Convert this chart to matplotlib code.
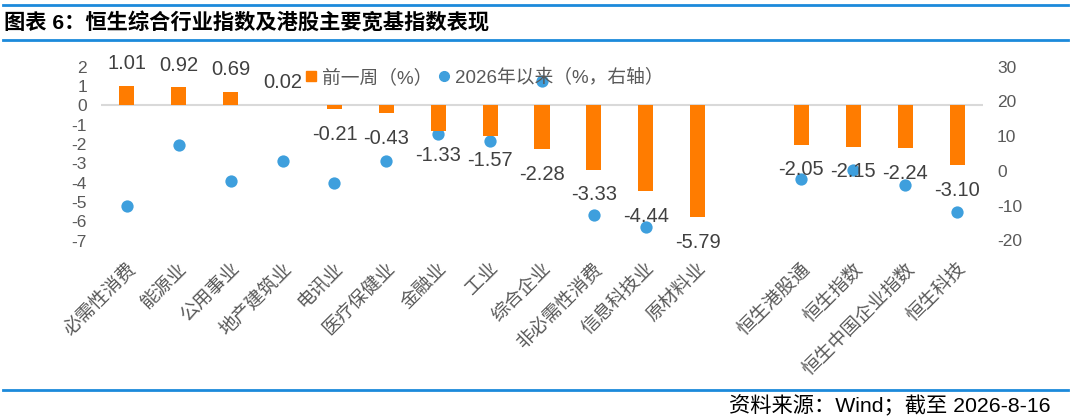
import numpy as np
import matplotlib
matplotlib.use("Agg")
import matplotlib.pyplot as plt
from matplotlib.lines import Line2D

plt.rcParams['font.family'] = ['Liberation Sans', 'Noto Sans CJK SC', 'DejaVu Sans']
plt.rcParams['axes.unicode_minus'] = False

# ---- data ----
categories = ['必需性消费', '能源业', '公用事业', '地产建筑业', '电讯业', '医疗保健业',
              '金融业', '工业', '综合企业', '非必需性消费', '信息科技业', '原材料业',
              '', '恒生港股通', '恒生指数', '恒生中国企业指数', '恒生科技']
week_chg = [1.01, 0.92, 0.69, 0.02, -0.21, -0.43, -1.33, -1.57, -2.28, -3.33, -4.44, -5.79,
            np.nan, -2.05, -2.15, -2.24, -3.10]
ytd_chg = [-10.0, 7.3, -2.8, 2.8, -3.5, 2.9, 10.5, 8.7, 25.9, -12.7, -16.1, -5.9,
           np.nan, -2.3, 0.3, -4.0, -11.8]
left_ticks = [2, 1, 0, -1, -2, -3, -4, -5, -6, -7]
right_ticks = [30, 20, 10, 0, -10, -20]

ORANGE = '#FF7C00'
BLUE_DOT = '#3E9FDD'
BLUE_LINE = '#1C8ADB'
GREY = '#595959'

fig = plt.figure(figsize=(10.8, 4.18), dpi=100)
ax = fig.add_axes([101 / 1080, 1 - 240.5 / 418, (983 - 101) / 1080, 174 / 418])
ax2 = ax.twinx()

x = np.arange(len(categories))
ax.bar(x, week_chg, width=0.29, color=ORANGE, zorder=2)
ax.axhline(0, color='#D9D9D9', lw=1.5, zorder=1)
ax2.scatter(x, ytd_chg, s=78, color=BLUE_DOT, zorder=3, linewidths=0)

# data labels for weekly change
for xi, v in zip(x, week_chg):
    if np.isnan(v):
        continue
    off = 16 if v >= 0 else -18
    ax.annotate(f'{v:.2f}', (xi, v), xytext=(0, off), textcoords='offset points',
                ha='center', va='center', fontsize=14.5, color='#404040', zorder=4)

ax.set_xlim(-0.5, len(categories) - 0.5)
ax.set_ylim(-7, 2)
ax2.set_ylim(-20, 30)
ax.set_yticks(left_ticks)
ax2.set_yticks(right_ticks)
ax.set_xticks(x)
ax.set_xticklabels(categories, rotation=45, ha='right', va='top', rotation_mode='anchor',
                   fontsize=13.5, color=GREY)
ax.tick_params(axis='x', length=0, pad=14)
ax.tick_params(axis='y', length=0, pad=10, labelsize=12.5, labelcolor=GREY)
ax2.tick_params(axis='y', length=0, pad=10, labelsize=12.5, labelcolor=GREY)
for a in (ax, ax2):
    for s in a.spines.values():
        s.set_visible(False)
ax.set_zorder(ax2.get_zorder() + 1)
ax.patch.set_visible(False)

# legend
handles = [Line2D([], [], marker='s', ls='none', color=ORANGE, markersize=7.5),
           Line2D([], [], marker='o', ls='none', color=BLUE_DOT, markersize=7)]
fig.legend(handles, ['前一周（%）', '2026年以来（%，右轴）'], loc='center left',
           bbox_to_anchor=(0.268, 0.814), ncol=2, frameon=False, fontsize=13.5,
           handlelength=0.5, handletextpad=0.35, columnspacing=0.35,
           labelcolor=GREY)

# title bar and footer
for yy in (1 - 5 / 418, 1 - 40 / 418, 1 - 390 / 418):
    fig.add_artist(Line2D([0.003, 0.989], [yy, yy], color=BLUE_LINE, lw=2))
fig.text(0.004, 1 - 23 / 418, '图表 6：恒生综合行业指数及港股主要宽基指数表现',
         fontsize=15.3, fontweight='bold', color='black', va='center', ha='left')
fig.text(0.973, 1 - 405.5 / 418, '资料来源：Wind；截至 2026-8-16',
         fontsize=15.3, color='black', va='center', ha='right')

fig.savefig('out.png', dpi=100)
